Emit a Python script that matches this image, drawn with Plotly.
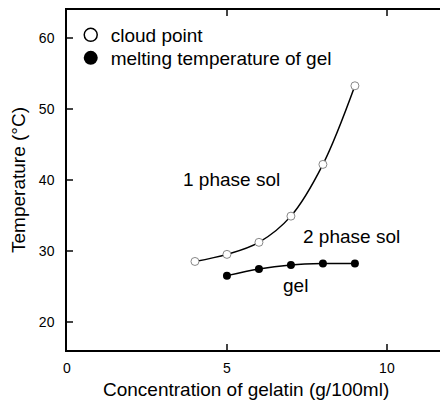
import plotly.graph_objects as go

# Gelatin concentration (g/100ml)
cloud_conc = [4, 5, 6, 7, 8, 9]
cloud_temp = [28.5, 29.5, 31.2, 34.9, 42.2, 53.3]

gel_conc = [5, 6, 7, 8, 9]
gel_temp = [26.5, 27.45, 28.0, 28.2, 28.2]

x_ticks = [0, 5, 10]
y_ticks = [20, 30, 40, 50, 60]

FONT = "Liberation Sans, Arial, sans-serif"

fig = go.Figure()

# Cloud point curve (open circles)
fig.add_trace(go.Scatter(
    x=cloud_conc, y=cloud_temp, mode="lines+markers",
    line=dict(color="black", width=1.5, shape="spline", smoothing=1.0),
    marker=dict(symbol="circle", size=8, color="white",
                line=dict(color="#888888", width=1)),
    showlegend=False,
))

# Gel melting temperature curve (filled circles)
fig.add_trace(go.Scatter(
    x=gel_conc, y=gel_temp, mode="lines+markers",
    line=dict(color="black", width=1.5, shape="spline", smoothing=1.0),
    marker=dict(symbol="circle", size=8, color="black"),
    showlegend=False,
))

# Legend entries with larger symbols, one legend box per row
fig.add_trace(go.Scatter(
    x=[None], y=[None], mode="markers", name="cloud point", legend="legend",
    marker=dict(symbol="circle", size=13, color="white",
                line=dict(color="black", width=1.5)),
))
fig.add_trace(go.Scatter(
    x=[None], y=[None], mode="markers", name="melting temperature of gel", legend="legend2",
    marker=dict(symbol="circle", size=14, color="black"),
))

# Region labels
for txt, x, y in [("1 phase sol", 5.15, 40.1), ("2 phase sol", 8.9, 32.0), ("gel", 7.15, 25.1)]:
    fig.add_annotation(x=x, y=y, text=txt, showarrow=False,
                       font=dict(size=19, color="black", family=FONT))

# x-axis title
fig.add_annotation(xref="paper", yref="paper", x=(246 - 67) / 373, y=-(389.5 - 350) / 340,
                   yanchor="middle", xanchor="center", showarrow=False,
                   text="Concentration of gelatin (g/100ml)",
                   font=dict(size=19, color="black", family=FONT))

fig.update_xaxes(
    range=[0, 11.66], tickvals=x_ticks, ticks="inside", ticklen=6, tickwidth=1.5,
    showline=True, linecolor="black", linewidth=1.5, mirror="ticks",
    showgrid=False, zeroline=False, ticklabelstandoff=4,
    tickfont=dict(size=14, color="black", family=FONT),
)
fig.update_yaxes(
    range=[16, 64], tickvals=y_ticks, ticks="inside", ticklen=6, tickwidth=1.5,
    showline=True, linecolor="black", linewidth=1.5, mirror=False,
    showgrid=False, zeroline=False, ticklabelstandoff=8,
    tickfont=dict(size=14, color="black", family=FONT),
    title=dict(text="Temperature (°C)",
               font=dict(size=19, color="black", family=FONT), standoff=8),
)

legend_style = dict(xanchor="left", yanchor="middle", bgcolor="rgba(0,0,0,0)",
                    font=dict(size=19, color="black", family=FONT), itemsizing="trace")

fig.update_layout(
    width=440, height=401,
    margin=dict(l=67, r=0, t=10, b=51),
    plot_bgcolor="white", paper_bgcolor="white",
    font=dict(family=FONT, color="black"),
    legend=dict(x=0.01, y=1 - (35 - 10) / 340, **legend_style),
    legend2=dict(x=0.01, y=1 - (58 - 10) / 340, **legend_style),
)

fig.write_html("out.html")
